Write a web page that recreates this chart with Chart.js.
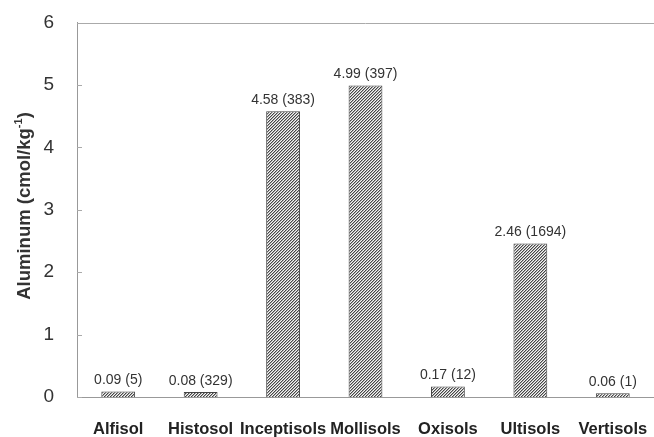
<!DOCTYPE html>
<html>
<head>
<meta charset="utf-8">
<script src="https://cdn.jsdelivr.net/npm/chart.js@4.4.0/dist/chart.umd.min.js"></script>
<style>
  html, body { margin: 0; padding: 0; background: #fff; }
  #wrap { width: 654px; height: 437px; }
</style>
</head>
<body>
<div id="wrap"><canvas id="alChart" width="654" height="437"></canvas></div>
<script>
const soilOrders = ['Alfisol', 'Histosol', 'Inceptisols', 'Mollisols', 'Oxisols', 'Ultisols', 'Vertisols'];
const aluminum = [0.09, 0.08, 4.58, 4.99, 0.17, 2.46, 0.06];
const sampleCounts = [5, 329, 383, 397, 12, 1694, 1];
const yTicks = [0, 1, 2, 3, 4, 5, 6];

const FONT = '"Liberation Sans", Arial, sans-serif';

// "////" hatch, 3px period
function hatch() {
    const c = document.createElement('canvas');
    c.width = 3; c.height = 3;
    const g = c.getContext('2d');
    const img = g.createImageData(3, 3);
    for (let y = 0; y < 3; y++) {
        for (let x = 0; x < 3; x++) {
            const k = (y * 3 + x) * 4;
            const v = (x + y) % 3 === 2 ? 70 : ((x + y) % 3 === 0 ? 170 : 245);
            img.data[k] = img.data[k + 1] = img.data[k + 2] = v;
            img.data[k + 3] = 255;
        }
    }
    g.putImageData(img, 0, 0);
    return g.createPattern(c, 'repeat');
}

const extras = {
    id: 'extras',
    afterDatasetsDraw(chart) {
        const ctx = chart.ctx;
        const meta = chart.getDatasetMeta(0);
        const area = chart.chartArea;
        ctx.save();
        ctx.fillStyle = '#333';
        ctx.font = '14px ' + FONT;
        ctx.textAlign = 'center';
        ctx.textBaseline = 'bottom';
        meta.data.forEach((bar, i) => {
            ctx.fillText(aluminum[i].toFixed(2) + ' (' + sampleCounts[i] + ')', bar.x, bar.y - 4);
        });

        // top frame line and inward ticks
        const y = chart.scales.y;
        ctx.strokeStyle = '#aaa';
        ctx.lineWidth = 1;
        ctx.beginPath();
        const topY = Math.round(y.getPixelForValue(6)) + 0.5;
        ctx.moveTo(area.left, topY);
        ctx.lineTo(chart.width, topY);
        yTicks.forEach(v => {
            const py = Math.round(y.getPixelForValue(v)) + 0.5;
            ctx.moveTo(area.left, py);
            ctx.lineTo(area.left + 5, py);
        });
        ctx.stroke();

        // y axis title with superscript
        ctx.translate(25, 206);
        ctx.rotate(-Math.PI / 2);
        ctx.fillStyle = '#333';
        const bold = 'bold 18.5px ' + FONT;
        const small = 'bold 11px ' + FONT;
        const p1 = 'Aluminum (cmol/kg', p2 = '-1', p3 = ')';
        ctx.font = bold;
        const w1 = ctx.measureText(p1).width, w3 = ctx.measureText(p3).width;
        ctx.font = small;
        const w2 = ctx.measureText(p2).width;
        let x = -(w1 + w2 + w3) / 2;
        ctx.textAlign = 'left';
        ctx.textBaseline = 'middle';
        ctx.font = bold;
        ctx.fillText(p1, x, 0);
        x += w1;
        ctx.font = small;
        ctx.fillText(p2, x, -6);
        x += w2;
        ctx.font = bold;
        ctx.fillText(p3, x, 0);
        ctx.restore();
    }
};

new Chart(document.getElementById('alChart').getContext('2d'), {
    type: 'bar',
    data: {
        labels: soilOrders,
        datasets: [{
            data: aluminum,
            backgroundColor: hatch(),
            borderColor: '#444',
            borderWidth: 1,
            borderSkipped: 'bottom',
            barPercentage: 0.41,
            categoryPercentage: 1
        }]
    },
    options: {
        responsive: false,
        animation: false,
        layout: { padding: { top: 16, right: 0, left: 0, bottom: 0 } },
        plugins: { legend: { display: false }, tooltip: { enabled: false } },
        scales: {
            x: {
                grid: { display: false, tickLength: 23 },
                border: { color: '#999', width: 1 },
                ticks: {
                    color: '#222',
                    padding: 0,
                    maxRotation: 0,
                    autoSkip: false,
                    font: { family: FONT, size: 16.5, weight: 'bold' }
                },
                afterFit(s) { s.height = 40; }
            },
            y: {
                min: 0,
                max: 6,
                grid: { display: false },
                border: { color: '#999', width: 1 },
                ticks: {
                    stepSize: 1,
                    color: '#333',
                    padding: 15,
                    font: { family: FONT, size: 19, lineHeight: 0.8 }
                },
                afterFit(s) { s.width = 77; }
            }
        }
    },
    plugins: [extras]
});
</script>
</body>
</html>
